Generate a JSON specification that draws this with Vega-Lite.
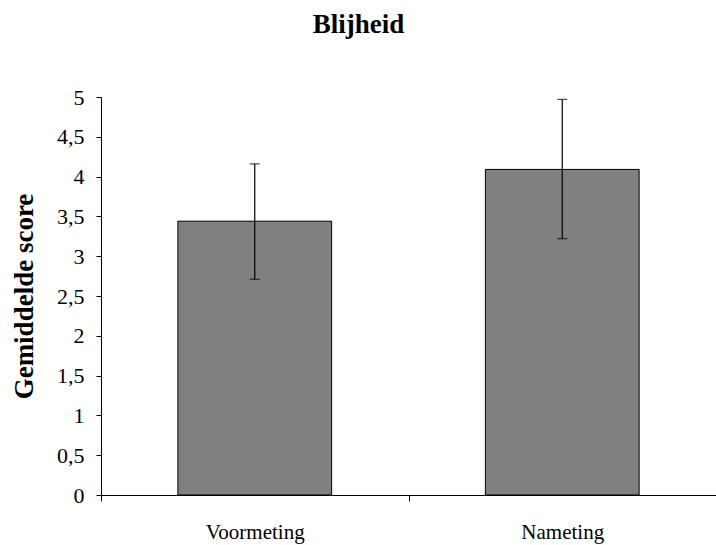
{
  "$schema": "https://vega.github.io/schema/vega-lite/v6.json",
  "autosize": "none",
  "width": 615,
  "height": 398,
  "padding": {"left": 101, "top": 97, "right": 0, "bottom": 50},
  "background": "white",
  "title": {
    "text": "Blijheid",
    "font": "Liberation Serif",
    "fontSize": 27,
    "fontWeight": "bold",
    "color": "black",
    "anchor": "middle",
    "frame": "group",
    "dx": -50,
    "baseline": "alphabetic",
    "offset": 26
  },
  "config": {
    "view": {"stroke": null},
    "axis": {
      "domainColor": "black",
      "tickColor": "black",
      "labelColor": "black",
      "titleColor": "black",
      "labelFont": "Liberation Serif",
      "titleFont": "Liberation Serif",
      "grid": false
    }
  },
  "data": {
    "values": [
      {"meting": "Voormeting", "score": 3.44, "lo": 2.71, "hi": 4.16},
      {"meting": "Nameting", "score": 4.09, "lo": 3.22, "hi": 4.97}
    ]
  },
  "encoding": {
    "x": {
      "field": "meting",
      "type": "nominal",
      "sort": ["Voormeting", "Nameting"],
      "scale": {"paddingInner": 0, "paddingOuter": 0},
      "axis": {
        "title": null,
        "labelAngle": 0,
        "labelFontSize": 21,
        "labelPadding": 20,
        "tickBand": "extent",
        "tickSize": 6,
        "domainWidth": 1
      }
    }
  },
  "layer": [
    {
      "mark": {"type": "bar", "width": {"band": 0.5}, "color": "#808080", "stroke": "black", "strokeWidth": 1},
      "encoding": {
        "y": {
          "field": "score",
          "type": "quantitative",
          "scale": {"domain": [0, 5]},
          "axis": {
            "title": "Gemiddelde score",
            "titleFontSize": 27,
            "titleFontWeight": "bold",
            "titlePadding": 18,
            "labelFontSize": 22,
            "labelPadding": 12,
            "tickSize": 5,
            "labelOverlap": false,
            "values": [0, 0.5, 1, 1.5, 2, 2.5, 3, 3.5, 4, 4.5, 5],
            "labelExpr": "replace(format(datum.value, '~g'), '.', ',')"
          }
        }
      }
    },
    {
      "mark": {"type": "rule", "color": "black", "strokeWidth": 1.2},
      "encoding": {
        "y": {
          "field": "lo",
          "type": "quantitative",
          "axis": {
            "title": "Gemiddelde score",
            "titleFontSize": 27,
            "titleFontWeight": "bold",
            "titlePadding": 18,
            "labelFontSize": 22,
            "labelPadding": 12,
            "tickSize": 5,
            "labelOverlap": false,
            "values": [0, 0.5, 1, 1.5, 2, 2.5, 3, 3.5, 4, 4.5, 5],
            "labelExpr": "replace(format(datum.value, '~g'), '.', ',')"
          }
        },
        "y2": {"field": "hi"}
      }
    },
    {
      "mark": {"type": "tick", "color": "black", "size": 10, "thickness": 1.2},
      "encoding": {
        "y": {
          "field": "hi",
          "type": "quantitative",
          "axis": {
            "title": "Gemiddelde score",
            "titleFontSize": 27,
            "titleFontWeight": "bold",
            "titlePadding": 18,
            "labelFontSize": 22,
            "labelPadding": 12,
            "tickSize": 5,
            "labelOverlap": false,
            "values": [0, 0.5, 1, 1.5, 2, 2.5, 3, 3.5, 4, 4.5, 5],
            "labelExpr": "replace(format(datum.value, '~g'), '.', ',')"
          }
        }
      }
    },
    {
      "mark": {"type": "tick", "color": "black", "size": 10, "thickness": 1.2},
      "encoding": {
        "y": {
          "field": "lo",
          "type": "quantitative",
          "axis": {
            "title": "Gemiddelde score",
            "titleFontSize": 27,
            "titleFontWeight": "bold",
            "titlePadding": 18,
            "labelFontSize": 22,
            "labelPadding": 12,
            "tickSize": 5,
            "labelOverlap": false,
            "values": [0, 0.5, 1, 1.5, 2, 2.5, 3, 3.5, 4, 4.5, 5],
            "labelExpr": "replace(format(datum.value, '~g'), '.', ',')"
          }
        }
      }
    }
  ]
}
